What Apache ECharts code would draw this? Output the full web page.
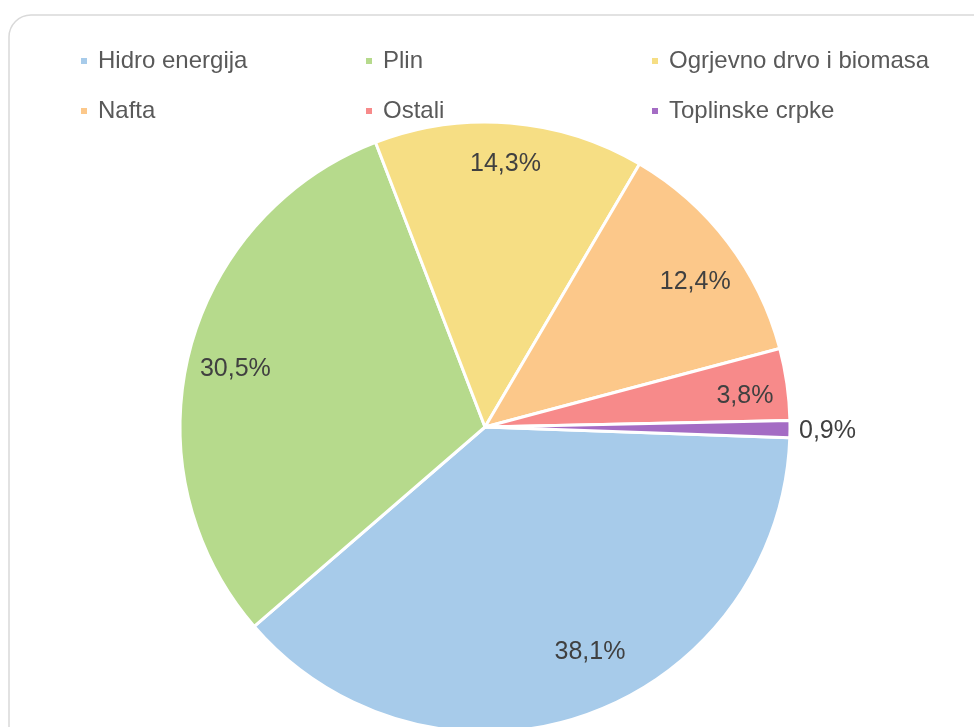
<!DOCTYPE html>
<html>
<head>
<meta charset="utf-8">
<script src="https://cdn.jsdelivr.net/npm/echarts@6/dist/echarts.min.js"></script>
<style>
  html, body { margin: 0; padding: 0; background: #fff; }
  #chart { width: 974px; height: 727px; }
</style>
</head>
<body>
<div id="chart"></div>
<script>
// podaci
const categories = ['Hidro energija', 'Plin', 'Ogrjevno drvo i biomasa', 'Nafta', 'Ostali', 'Toplinske crpke']
const values = [38.1, 30.5, 14.3, 12.4, 3.8, 0.9]
const colors = ['#a7cbea', '#b6da8c', '#f6de84', '#fcc88a', '#f78a8a', '#a46cc4']

const fmt = v => v.toFixed(1).replace('.', ',') + '%'
const fontFamily = 'Liberation Sans, Arial, sans-serif'

const chart = echarts.init(document.getElementById('chart'))

const pieData = categories.map((name, i) => ({
  name: name,
  value: values[i],
  itemStyle: { color: colors[i] }
}))

// pomaci oznaka (Excel ih ne stavlja točno na sredinu)
const labelOffsets = [[18, -22], [4, 6], [-1, -2], [2, 13], [1, 6], [0, 2]]

// oznake (zaseban prozirni prsten)
const labelData = categories.map((name, i) => {
  const item = { name: name, value: values[i], label: { offset: labelOffsets[i] } }
  if (i === categories.length - 1) {
    item.label.position = 'outside'
  }
  return item
})

const legendBase = {
  orient: 'vertical',
  top: 49,
  padding: 0,
  itemWidth: 8,
  itemHeight: 8,
  itemGap: 26,
  icon: 'rect',
  selectedMode: false,
  textStyle: { fontSize: 24, lineHeight: 24, color: '#595959', fontFamily: fontFamily, padding: [0, 0, 0, 5] }
}

chart.setOption({
  animation: false,
  color: colors,
  graphic: [{
    type: 'rect',
    shape: { x: 9, y: 15, width: 1000, height: 760, r: 22 },
    style: { fill: 'none', stroke: '#d9d9d9', lineWidth: 1.5 },
    z: -1
  }],
  legend: [
    Object.assign({}, legendBase, { left: 79, data: [categories[0], categories[3]] }),
    Object.assign({}, legendBase, { left: 364, data: [categories[1], categories[4]] }),
    Object.assign({}, legendBase, { left: 650, data: [categories[2], categories[5]] })
  ],
  series: [
    {
      type: 'pie',
      center: [485, 427],
      radius: [0, 305],
      startAngle: -2,
      clockwise: true,
      silent: true,
      itemStyle: { borderColor: '#fff', borderWidth: 3 },
      label: { show: false },
      labelLine: { show: false },
      data: pieData
    },
    {
      type: 'pie',
      center: [485, 427],
      radius: [212, 305],
      startAngle: -2,
      clockwise: true,
      silent: true,
      legendHoverLink: false,
      itemStyle: { color: 'rgba(0,0,0,0)', borderWidth: 0 },
      label: {
        show: true,
        position: 'inside',
        fontSize: 25,
        color: '#404040',
        fontFamily: fontFamily,
        formatter: p => fmt(p.value)
      },
      labelLine: { show: false, length: 4, length2: 0 },
      data: labelData,
      tooltip: { show: false }
    }
  ]
})
</script>
</body>
</html>
